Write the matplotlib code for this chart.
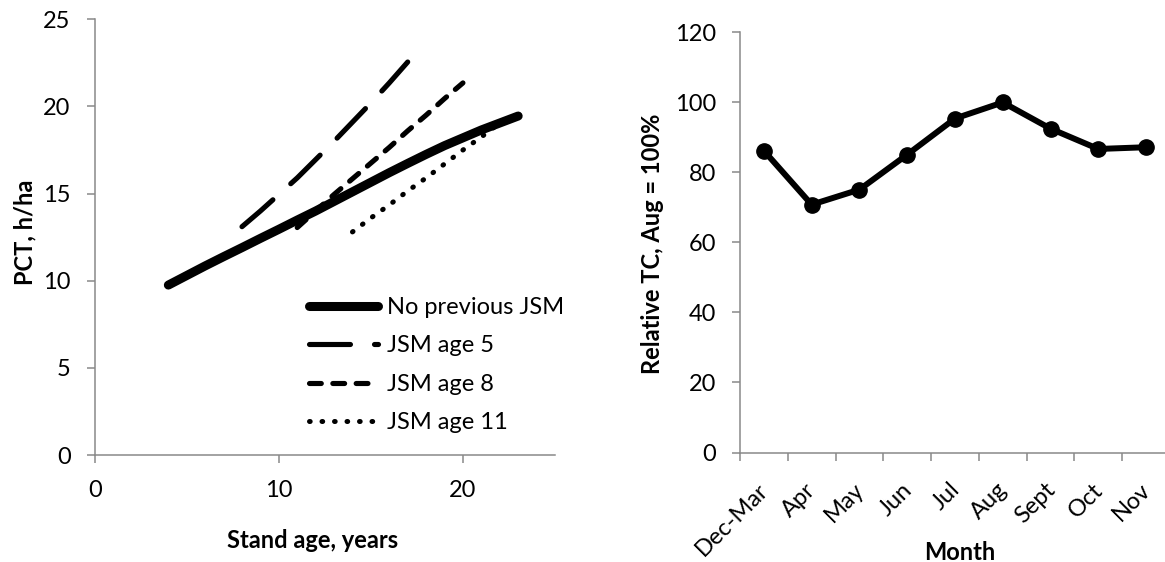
import matplotlib
matplotlib.use('Agg')
import matplotlib.pyplot as plt
from matplotlib.transforms import ScaledTranslation

plt.rcParams['font.family'] = ['Lato', 'DejaVu Sans']
plt.rcParams['lines.scale_dashes'] = False

# ---------------- data ----------------
age_nojsm = [4, 5, 6, 7, 8, 9, 10, 11, 12, 13, 14, 15, 16, 17, 18, 19, 20, 21, 22, 23]
pct_nojsm = [9.75, 10.3, 10.85, 11.38, 11.9, 12.43, 12.95, 13.48, 14.0, 14.55,
             15.1, 15.65, 16.2, 16.73, 17.25, 17.75, 18.2, 18.65, 19.05, 19.45]
age_jsm5 = [8, 9, 10, 11, 12, 13, 14, 15, 16, 17]
pct_jsm5 = [13.1, 14.0, 14.95, 15.9, 16.95, 18.0, 19.1, 20.2, 21.35, 22.55]
age_jsm8 = [11, 12, 13, 14, 15, 16, 17, 18, 19, 20]
pct_jsm8 = [13.05, 14.0, 14.95, 15.85, 16.75, 17.65, 18.6, 19.5, 20.45, 21.35]
age_jsm11 = [14, 15, 16, 17, 18, 19, 20, 21, 22]
pct_jsm11 = [12.8, 13.6, 14.35, 15.15, 15.9, 16.7, 17.5, 18.25, 19.05]
series_labels = ['No previous JSM', 'JSM age 5', 'JSM age 8', 'JSM age 11']

months = ['Dec-Mar', 'Apr', 'May', 'Jun', 'Jul', 'Aug', 'Sept', 'Oct', 'Nov']
rel_tc = [86.2, 70.8, 75.1, 85.1, 95.4, 100, 92.5, 86.7, 87.2]

left_xticks = [0, 10, 20]
left_yticks = [0, 5, 10, 15, 20, 25]
right_yticks = [0, 20, 40, 60, 80, 100, 120]

# ---------------- figure ----------------
W, H = 1165, 562
fig = plt.figure(figsize=(W / 100, H / 100), dpi=100)
ax1 = fig.add_axes([94.7 / W, 1 - 455 / H, (555 - 94.7) / W, (455 - 19.3) / H])
ax2 = fig.add_axes([740 / W, 1 - 452.5 / H, 430 / W, (452.5 - 32.4) / H])

FS = 17
spine_c = '#898989'
for ax in (ax1, ax2):
    for s in ['top', 'right']:
        ax.spines[s].set_visible(False)
    for s in ['left', 'bottom']:
        ax.spines[s].set_color(spine_c)
        ax.spines[s].set_linewidth(1.1)
    ax.tick_params(which='both', direction='out', color=spine_c, width=1.1,
                   length=5.8, labelsize=FS, labelcolor='black')
    ax.tick_params(axis='y', pad=11.5)
    ax.tick_params(axis='x', pad=12.5)

# ---- left chart ----
ax1.plot(age_nojsm, pct_nojsm, color='black', lw=6.5, solid_capstyle='round',
         solid_joinstyle='round', label=series_labels[0])
ax1.plot(age_jsm5, pct_jsm5, color='black', lw=3.7, dashes=(29.5, 17.3),
         dash_capstyle='round', label=series_labels[1])
ax1.plot(age_jsm8, pct_jsm8, color='black', lw=3.7, dashes=(8.5, 8.3),
         dash_capstyle='round', label=series_labels[2])
ax1.plot(age_jsm11, pct_jsm11, color='black', lw=3.6, dashes=(0.5, 8.5),
         dash_capstyle='round', label=series_labels[3])
ax1.set_xlim(0, 25)
ax1.set_ylim(0, 25)
ax1.set_xticks(left_xticks)
ax1.set_yticks(left_yticks)

leg = ax1.legend(loc='upper left', bbox_to_anchor=(309 / W, 1 - 297 / H),
                 bbox_transform=fig.transFigure, frameon=False, fontsize=FS,
                 handlelength=2.93, handletextpad=0.38, labelspacing=0.74,
                 borderpad=0, borderaxespad=0)

fig.text(313 / W, 1 - 548 / H, 'Stand age, years', ha='center', va='baseline',
         fontsize=FS, fontweight='bold')
fig.text(32 / W, 1 - 232.5 / H, 'PCT, h/ha', ha='center', va='baseline',
         rotation=90, rotation_mode='anchor', fontsize=FS, fontweight='bold')

# ---- right chart ----
xpos = list(range(len(months)))
ax2.plot(xpos, rel_tc, color='black', lw=4.3, marker='o', ms=11,
         solid_joinstyle='round')
ax2.set_xlim(-0.5, 8.5)
ax2.set_ylim(0, 120)
ax2.set_yticks(right_yticks)
ax2.set_xticks([i - 0.5 for i in range(len(months) + 1)])
ax2.set_xticklabels([])
ax2.set_xticks(xpos, minor=True)
ax2.set_xticklabels(months, minor=True, rotation=45, ha='right', va='center',
                    rotation_mode='anchor')
ax2.tick_params(axis='x', which='minor', length=0, pad=24.5)
off = ScaledTranslation(1 / 100, 0, fig.dpi_scale_trans)
for lab in ax2.get_xticklabels(minor=True):
    lab.set_transform(lab.get_transform() + off)

fig.text(959.5 / W, 1 - 560 / H, 'Month', ha='center', va='baseline',
         fontsize=FS, fontweight='bold')
fig.text(660 / W, 1 - 243.5 / H, 'Relative TC, Aug = 100%', ha='center',
         va='baseline', rotation=90, rotation_mode='anchor', fontsize=FS,
         fontweight='bold')

fig.savefig('out.png', dpi=100)
